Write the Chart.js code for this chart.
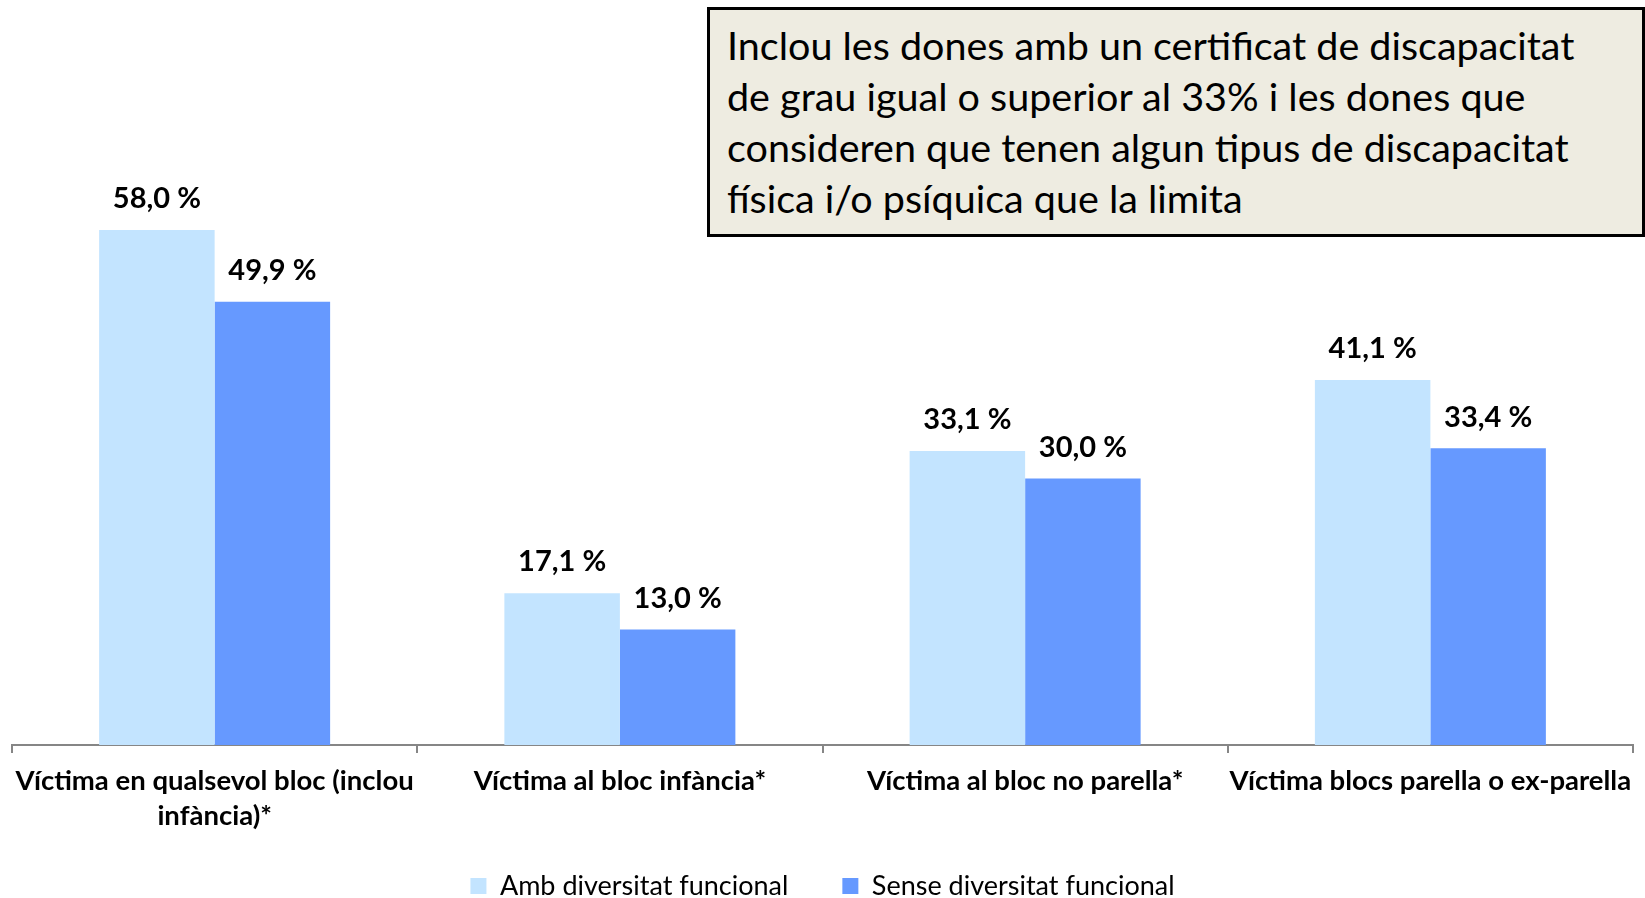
<!DOCTYPE html>
<html>
<head>
<meta charset="utf-8">
<script src="https://cdn.jsdelivr.net/npm/chart.js@4.4.1/dist/chart.umd.min.js"></script>
<style>
  html, body { margin: 0; padding: 0; background: #fff; }
  #wrap { position: relative; width: 1645px; height: 898px; overflow: hidden; }
  #c { position: absolute; left: 0; top: 0; }
  #note {
    position: absolute; left: 707px; top: 7px; width: 938px; height: 230px;
    box-sizing: border-box; border: 3px solid #000; background: #EEECE1;
    font-family: Lato, "Open Sans", sans-serif; font-size: 39.5px; line-height: 51px;
    color: #000; padding: 9px 0 0 17px; white-space: nowrap;
  }
</style>
</head>
<body>
<div id="wrap">
  <canvas id="c" width="1645" height="898"></canvas>
  <div id="note">Inclou les dones amb un certificat de discapacitat<br>de grau igual o superior al 33% i les dones que<br>consideren que tenen algun tipus de discapacitat<br>física i/o psíquica que la limita</div>
</div>
<script>
const categories = [
  ["Víctima en qualsevol bloc (inclou", "infància)*"],
  "Víctima al bloc infància*",
  "Víctima al bloc no parella*",
  "Víctima blocs parella o ex-parella"
];
const seriesNames = ["Amb diversitat funcional", "Sense diversitat funcional"];
const ambValues = [58.0, 17.1, 33.1, 41.1];
const senseValues = [49.9, 13.0, 30.0, 33.4];

const FONT = "Lato, 'Open Sans', sans-serif";

const valueLabels = {
  id: 'valueLabels',
  afterDatasetsDraw(chart) {
    const ctx = chart.ctx;
    ctx.save();
    ctx.font = "bold 29px " + FONT;
    ctx.fillStyle = "#000";
    ctx.textAlign = "center";
    ctx.textBaseline = "middle";
    chart.data.datasets.forEach((ds, i) => {
      const meta = chart.getDatasetMeta(i);
      meta.data.forEach((bar, j) => {
        const v = ds.data[j];
        const txt = v.toFixed(1).replace('.', ',') + " %";
        ctx.fillText(txt, bar.x, bar.y - 31);
      });
    });
    ctx.restore();
  }
};

// move the legend row up so it sits just under the two-line category labels
const legendShift = {
  id: 'legendShift',
  afterLayout(chart) {
    const lg = chart.legend;
    if (!lg) return;
    const h = lg.bottom - lg.top;
    lg.top = 818.5;
    lg.bottom = lg.top + h;
  }
};

new Chart(document.getElementById('c'), {
  type: 'bar',
  data: {
    labels: categories,
    datasets: [
      { label: seriesNames[0], data: ambValues, backgroundColor: '#C3E4FF', borderWidth: 0 },
      { label: seriesNames[1], data: senseValues, backgroundColor: '#6699FF', borderWidth: 0 }
    ]
  },
  options: {
    responsive: false,
    animation: false,
    devicePixelRatio: 1,
    layout: { padding: { left: 12, right: 12, top: 34.5, bottom: -33 } },
    datasets: { bar: { categoryPercentage: 0.57, barPercentage: 1.0 } },
    plugins: {
      legend: {
        position: 'bottom',
        labels: {
          font: { family: FONT, size: 27 },
          color: '#000',
          boxWidth: 16, boxHeight: 16,
          padding: 54
        }
      },
      tooltip: { enabled: false },
      title: { display: false }
    },
    scales: {
      x: {
        afterFit(scale) { scale.height = 95; },
        grid: {
          display: true, offset: true, drawOnChartArea: false, drawTicks: true,
          tickLength: 8, color: '#868686', lineWidth: 2
        },
        border: { display: true, color: '#868686', width: 2 },
        ticks: {
          font: { family: FONT, size: 27.5, weight: 'bold', lineHeight: 1.26 },
          color: '#000', padding: 10.7, maxRotation: 0, autoSkip: false
        }
      },
      y: {
        display: false,
        min: 0, max: 80
      }
    }
  },
  plugins: [valueLabels, legendShift]
});
</script>
</body>
</html>
